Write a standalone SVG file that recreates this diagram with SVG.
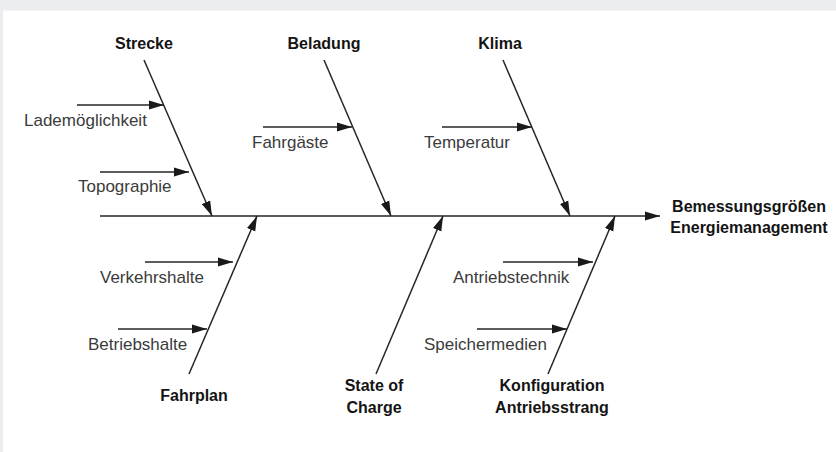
<svg xmlns="http://www.w3.org/2000/svg" width="836" height="452" viewBox="0 0 836 452">
<style>
.bg{fill:#ebedf0}
.ln{stroke:#262626;stroke-width:1.5;fill:none}
.ar{marker-end:url(#ah)}
.t{font-family:"Liberation Sans",Arial,sans-serif;font-size:17px;fill:#3b3b3b}
.b{font-family:"Liberation Sans",Arial,sans-serif;font-size:16px;font-weight:bold;fill:#141414;text-anchor:middle}
</style>
<defs>
<marker id="ah" markerUnits="userSpaceOnUse" markerWidth="15" markerHeight="10" refX="15" refY="5" orient="auto">
<path d="M0,0.5 L15,5 L0,9.5 z" fill="#1a1a1a"/>
</marker>
</defs>
<rect width="836" height="452" fill="#ffffff"/>
<rect class="bg" x="0" y="0" width="836" height="10.5"/>
<rect class="bg" x="0" y="0" width="3" height="452"/>
<g id="connectors">
<line class="ln ar" x1="100" y1="216" x2="660" y2="216"/>
<line class="ln ar" x1="144" y1="60" x2="212" y2="216"/>
<line class="ln ar" x1="77" y1="105" x2="164" y2="105"/>
<line class="ln ar" x1="100" y1="172" x2="189" y2="172"/>
<line class="ln ar" x1="324" y1="60" x2="391" y2="216"/>
<line class="ln ar" x1="263" y1="127" x2="352" y2="127"/>
<line class="ln ar" x1="503" y1="60" x2="570" y2="216"/>
<line class="ln ar" x1="442" y1="127" x2="532" y2="127"/>
<line class="ln ar" x1="189" y1="374" x2="257" y2="216"/>
<line class="ln ar" x1="145" y1="262" x2="233" y2="262"/>
<line class="ln ar" x1="118" y1="329" x2="207" y2="329"/>
<line class="ln ar" x1="376" y1="374" x2="443" y2="216"/>
<line class="ln ar" x1="548" y1="374" x2="615" y2="216"/>
<line class="ln ar" x1="503" y1="262" x2="593" y2="262"/>
<line class="ln ar" x1="477" y1="329" x2="567" y2="329"/>
</g>
<g id="strecke"><text class="b" x="144" y="49">Strecke</text></g>
<g id="lademoeglichkeit"><text class="t" x="24" y="126">Lademöglichkeit</text></g>
<g id="topographie"><text class="t" x="78" y="192">Topographie</text></g>
<g id="beladung"><text class="b" x="324" y="49">Beladung</text></g>
<g id="fahrgaeste"><text class="t" x="252" y="148">Fahrgäste</text></g>
<g id="klima"><text class="b" x="500" y="49">Klima</text></g>
<g id="temperatur"><text class="t" x="424" y="148">Temperatur</text></g>
<g id="ziel"><text class="b" x="749" y="212">Bemessungsgrößen</text><text class="b" x="749" y="233">Energiemanagement</text></g>
<g id="fahrplan"><text class="b" x="194" y="401">Fahrplan</text></g>
<g id="verkehrshalte"><text class="t" x="100" y="283">Verkehrshalte</text></g>
<g id="betriebshalte"><text class="t" x="88" y="350">Betriebshalte</text></g>
<g id="soc"><text class="b" x="374" y="391">State of</text><text class="b" x="374" y="413">Charge</text></g>
<g id="konfiguration"><text class="b" x="552" y="391">Konfiguration</text><text class="b" x="552" y="413">Antriebsstrang</text></g>
<g id="antriebstechnik"><text class="t" x="453" y="283">Antriebstechnik</text></g>
<g id="speichermedien"><text class="t" x="424" y="350">Speichermedien</text></g>
</svg>
